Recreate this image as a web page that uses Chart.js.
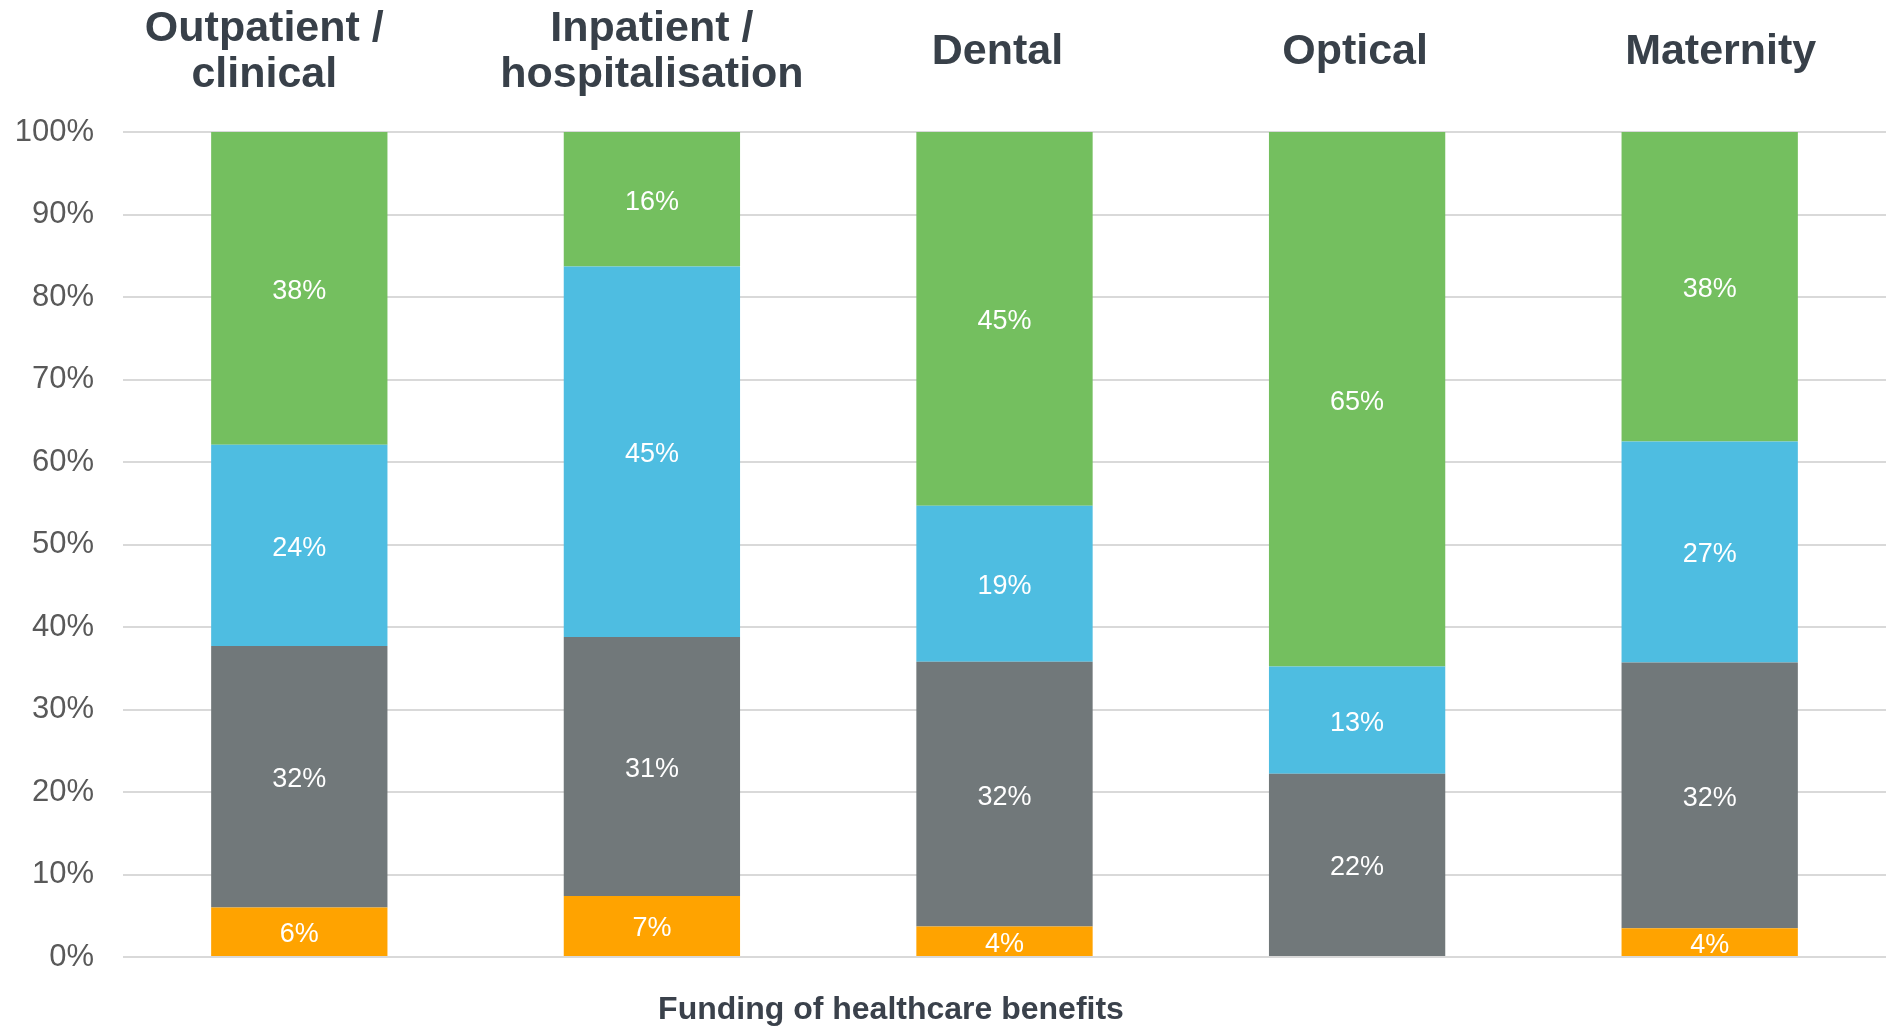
<!DOCTYPE html>
<html>
<head>
<meta charset="utf-8">
<title>Funding of healthcare benefits</title>
<script src="https://cdn.jsdelivr.net/npm/chart.js@4/dist/chart.umd.min.js"></script>
<style>
  html, body { margin: 0; padding: 0; background: #ffffff; }
  #wrap { width: 1898px; height: 1026px; }
</style>
</head>
<body>
<div id="wrap"><canvas id="chart" width="1898" height="1026"></canvas></div>
<script>
// Benefit types (shown above each column)
const categories = [
  ['Outpatient /', 'clinical'],
  ['Inpatient /', 'hospitalisation'],
  'Dental',
  'Optical',
  'Maternity'
];

// Share of funding per source, percent of each benefit type
const orangeShare = [6.0, 7.4, 3.7, 0, 3.5];
const grayShare   = [31.7, 31.4, 32.1, 22.2, 32.2];
const blueShare   = [24.4, 44.9, 18.9, 13.0, 26.8];
const greenShare  = [37.9, 16.3, 45.3, 64.8, 37.5];

const yTicks = [0, 10, 20, 30, 40, 50, 60, 70, 80, 90, 100];
const axisTitle = 'Funding of healthcare benefits';

Chart.defaults.font.family = '"Liberation Sans", Arial, sans-serif';

// Column headings above the plot, centred on each category of the x scale
const headingNudge = [-35, 0, -7, -2, 11];
const columnHeadings = {
  id: 'columnHeadings',
  afterDraw(chart) {
    const ctx = chart.ctx;
    const xs = chart.scales.x;
    const lineGap = 46.5;
    const midY = 52;
    ctx.save();
    ctx.fillStyle = '#384049';
    ctx.font = 'bold 43px "Liberation Sans", Arial, sans-serif';
    ctx.textAlign = 'center';
    ctx.textBaseline = 'middle';
    chart.data.labels.forEach((lab, i) => {
      const lines = Array.isArray(lab) ? lab : [lab];
      const x = xs.getPixelForValue(i) + headingNudge[i];
      const y0 = midY - (lines.length - 1) * lineGap / 2;
      lines.forEach((t, k) => ctx.fillText(t, x, y0 + k * lineGap));
    });
    ctx.restore();
  }
};

// White value labels centred in every stacked segment
const segmentLabels = {
  id: 'segmentLabels',
  afterDatasetsDraw(chart) {
    const ctx = chart.ctx;
    ctx.save();
    ctx.fillStyle = '#ffffff';
    ctx.font = '27px "Liberation Sans", Arial, sans-serif';
    ctx.textAlign = 'center';
    ctx.textBaseline = 'middle';
    chart.data.datasets.forEach((ds, di) => {
      const meta = chart.getDatasetMeta(di);
      meta.data.forEach((bar, i) => {
        const v = ds.data[i];
        if (!v) return;
        const cy = (bar.y + bar.base) / 2;
        ctx.fillText(Math.round(v) + '%', bar.x, cy + 3);
      });
    });
    ctx.restore();
  }
};

// Caption under the plot
const bottomCaption = {
  id: 'bottomCaption',
  afterDraw(chart) {
    const ctx = chart.ctx;
    ctx.save();
    ctx.fillStyle = '#3a414b';
    ctx.font = 'bold 32px "Liberation Sans", Arial, sans-serif';
    ctx.textAlign = 'center';
    ctx.textBaseline = 'middle';
    ctx.fillText(axisTitle, 891, 1010);
    ctx.restore();
  }
};

new Chart(document.getElementById('chart'), {
  type: 'bar',
  data: {
    labels: categories,
    datasets: [
      { label: 'Orange', data: orangeShare, backgroundColor: '#FFA300' },
      { label: 'Gray',   data: grayShare,   backgroundColor: '#71787A' },
      { label: 'Blue',   data: blueShare,   backgroundColor: '#4EBDE1' },
      { label: 'Green',  data: greenShare,  backgroundColor: '#74BF5F' }
    ]
  },
  options: {
    responsive: false,
    animation: false,
    layout: { padding: { top: 132, right: 12, bottom: 69, left: 0 } },
    datasets: {
      bar: { categoryPercentage: 1.0, barPercentage: 0.5, borderWidth: 0 }
    },
    plugins: {
      legend: { display: false },
      tooltip: { enabled: false },
      title: { display: false }
    },
    scales: {
      x: {
        display: false,
        stacked: true
      },
      y: {
        stacked: true,
        min: 0,
        max: 100,
        afterBuildTicks(scale) { scale.ticks = yTicks.map(v => ({ value: v })); },
        grid: { color: '#d9d9d9', lineWidth: 2, drawTicks: false },
        border: { display: false },
        ticks: {
          color: '#595959',
          font: { size: 31 },
          padding: 29,
          callback: v => v + '%'
        },
        afterFit(scale) { scale.width = 123; }
      }
    }
  },
  plugins: [segmentLabels, columnHeadings, bottomCaption]
});
</script>
</body>
</html>
